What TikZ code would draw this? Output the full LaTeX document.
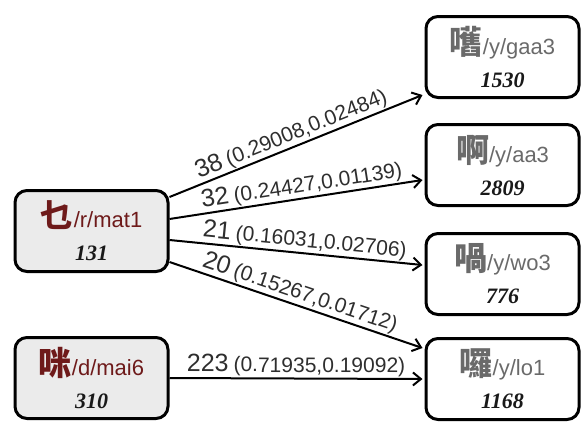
\documentclass[tikz,border=0pt]{standalone}
\usepackage{fontspec}
\setmainfont{Liberation Serif}
\setsansfont{Liberation Sans}
\newfontfamily\cjk{Noto Sans CJK TC}
\usepackage{xcolor}
\usetikzlibrary{arrows.meta, calc}

\definecolor{srcred}{HTML}{6E1A1A}
\definecolor{tgtgray}{HTML}{6A6A6A}
\definecolor{srcfill}{HTML}{EBEBEB}
\definecolor{lblgray}{HTML}{2E2E2E}

% syllable: character, romanisation, count
\newcommand{\syll}[3]{{\fontsize{33}{33}\selectfont\cjk\bfseries #1}{\fontsize{22}{22}\selectfont\sffamily #2}\\[1pt]%
  {\fontsize{22}{22}\selectfont\bfseries\itshape\color{black!90} #3}}
% edge weight: count and pair
\newcommand{\wlab}[2]{{\fontsize{25}{25}\selectfont #1}\hspace{5pt}{\fontsize{21}{21}\selectfont #2}}

\begin{document}
\begin{tikzpicture}[
  x=1pt, y=-1pt,
  box/.style={draw, line width=3pt, rounded corners=12pt, minimum width=153pt, minimum height=81pt, align=center, inner sep=0pt, font=\fontsize{20}{32}\selectfont},
  srcbox/.style={box, fill=srcfill, text=srcred},
  tgtbox/.style={box, fill=white, text=tgtgray},
  link/.style={line width=2pt, -{Straight Barb[length=8pt, width=13pt]}},
  wt/.style={midway, above, sloped, inner sep=1pt, text=lblgray, font=\sffamily},
]
\useasboundingbox (0,0) rectangle (581,421);
\node[srcbox] (mat) at (91.5,231) {\syll{乜}{/r/mat1}{131}};
\node[srcbox] (mai) at (91.5,378) {\syll{咪}{/d/mai6}{310}};
\node[tgtbox] (gaa) at (502.5,57) {\syll{嚿}{/y/gaa3}{1530}};
\node[tgtbox] (aa) at (502.5,165) {\syll{啊}{/y/aa3}{2809}};
\node[tgtbox] (wo) at (502.5,274) {\syll{喎}{/y/wo3}{776}};
\node[tgtbox] (lo) at (502.5,379) {\syll{囉}{/y/lo1}{1168}};
\draw[link] ([yshift=34pt]mat.east) -- ([xshift=-2pt,yshift=-38pt]gaa.west) node[wt] {\wlab{38}{(0.29008,0.02484)}};
\draw[link] ([yshift=12pt]mat.east) -- ([xshift=-2pt,yshift=-15pt]aa.west) node[wt, pos=0.53] {\wlab{32}{(0.24427,0.01139)}};
\draw[link] ([yshift=-9pt]mat.east) -- ([xshift=-2pt,yshift=9pt]wo.west) node[wt, pos=0.53] {\wlab{21}{(0.16031,0.02706)}};
\draw[link] ([yshift=-31pt]mat.east) -- ([xshift=-2pt,yshift=31pt]lo.west) node[wt] {\wlab{20}{(0.15267,0.01712)}};
\draw[link] (mai.east) -- ([xshift=-2pt]lo.west) node[wt] {\wlab{223}{(0.71935,0.19092)}};
\end{tikzpicture}
\end{document}
